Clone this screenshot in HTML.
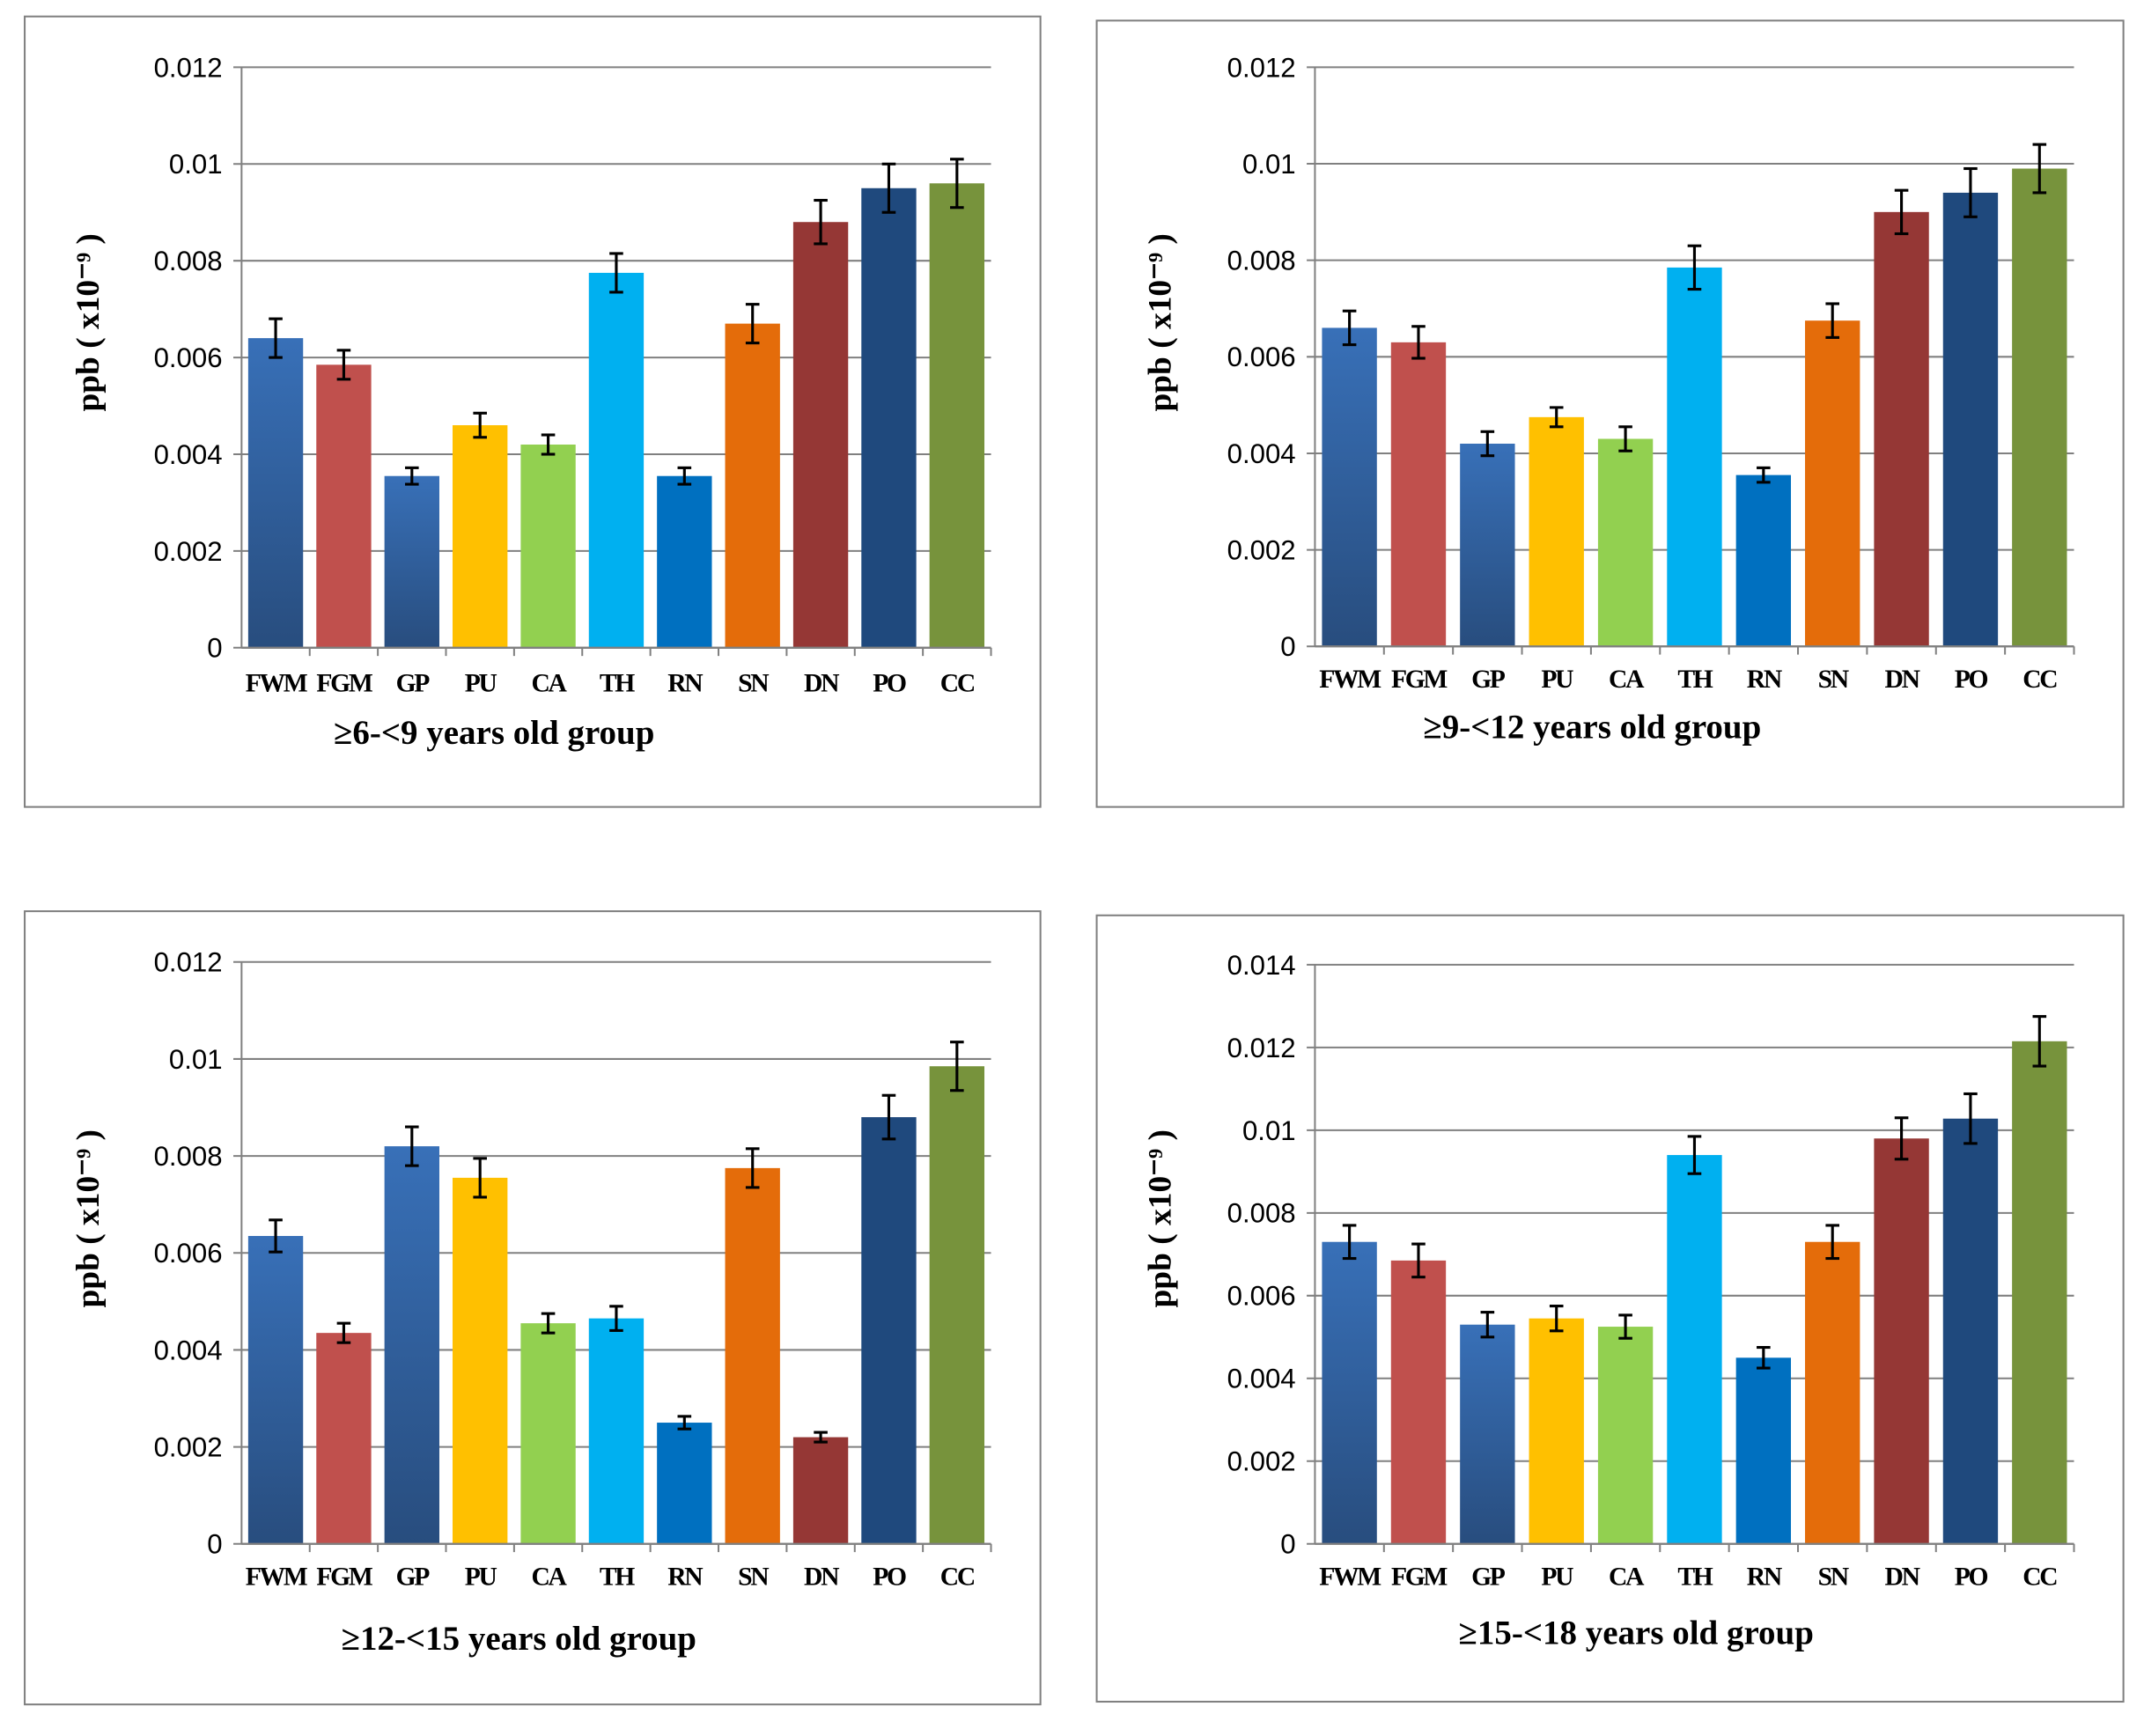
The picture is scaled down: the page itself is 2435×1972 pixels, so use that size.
<!DOCTYPE html>
<html><head><meta charset="utf-8"><style>
html,body{margin:0;padding:0;background:#fff}
svg{display:block}
</style></head><body>
<svg id="root" width="2435" height="1972" viewBox="0 0 1562 1265" preserveAspectRatio="none" xmlns="http://www.w3.org/2000/svg">
<defs>
<linearGradient id="gBlue" x1="0" y1="0" x2="0" y2="1"><stop offset="0" stop-color="#3870b8"/><stop offset="1" stop-color="#284d7e"/></linearGradient>
</defs>
</svg>
<script>
const categories = ["FWM","FGM","GP","PU","CA","TH","RN","SN","DN","PO","CC"];
const colors = ["url(#gBlue)","#c0504d","url(#gBlue)","#ffc000","#92d050","#00b0f0","#0070c0","#e46c0a","#953735","#1f497d","#77933c"];
const values1 = [0.0064,0.00585,0.00355,0.0046,0.0042,0.00775,0.00355,0.0067,0.0088,0.0095,0.0096];
const errors1 = [0.0004,0.0003,0.00017,0.00025,0.0002,0.0004,0.00017,0.0004,0.00045,0.0005,0.0005];
const values2 = [0.0066,0.0063,0.0042,0.00475,0.0043,0.00785,0.00355,0.00675,0.009,0.0094,0.0099];
const errors2 = [0.00035,0.00033,0.00025,0.0002,0.00025,0.00045,0.00015,0.00035,0.00045,0.0005,0.0005];
const values3 = [0.00635,0.00435,0.0082,0.00755,0.00455,0.00465,0.0025,0.00775,0.0022,0.0088,0.00985];
const errors3 = [0.00033,0.0002,0.0004,0.0004,0.0002,0.00025,0.00013,0.0004,0.0001,0.00045,0.0005];
const values4 = [0.0073,0.00685,0.0053,0.00545,0.00525,0.0094,0.0045,0.0073,0.0098,0.01028,0.01215];
const errors4 = [0.0004,0.0004,0.0003,0.0003,0.00028,0.00045,0.00025,0.0004,0.0005,0.0006,0.0006];
const ticks12 = ["0","0.002","0.004","0.006","0.008","0.01","0.012"];
const ticks14 = ["0","0.002","0.004","0.006","0.008","0.01","0.012","0.014"];
const titles = ["≥6-<9 years old group","≥9-<12  years old group","≥12-<15  years old group","≥15-<18 years old group"];

const NS="http://www.w3.org/2000/svg";
const root=document.getElementById('root');
function mk(tag,attrs,parent){const e=document.createElementNS(NS,tag);for(const k in attrs)e.setAttribute(k,attrs[k]);(parent||root).appendChild(e);return e;}

const panels=[
 {fr:[18,12,740,576],x0:176,x1:722,y0:472,yTop:49,ticks:ticks12,max:0.012,vals:values1,errs:errors1,ly:497,ty:534,tx:360,yl:235},
 {fr:[799,15,748,573],x0:958,x1:1511,y0:471,yTop:49,ticks:ticks12,max:0.012,vals:values2,errs:errors2,ly:494,ty:530,tx:1160,yl:235},
 {fr:[18,664,740,578],x0:176,x1:722,y0:1125,yTop:701,ticks:ticks12,max:0.012,vals:values3,errs:errors3,ly:1148,ty:1194,tx:378,yl:888},
 {fr:[799,667,748,573],x0:958,x1:1511,y0:1125,yTop:703,ticks:ticks14,max:0.014,vals:values4,errs:errors4,ly:1148,ty:1190,tx:1192,yl:888}
];

panels.forEach((p,pi)=>{
 const g=mk('g',{});
 
 
 const fr=mk('rect',{x:p.fr[0],y:p.fr[1],width:p.fr[2],height:p.fr[3],fill:'#fff',stroke:'#7f7f7f','stroke-width':1.3},g);
 
 
 const yS=v=>p.y0-(v/p.max)*(p.y0-p.yTop);
 const bw=(p.x1-p.x0)/categories.length;
 p.ticks.forEach(t=>{
  const y=yS(parseFloat(t));
  const l=mk('line',{x1:p.x0-6,x2:p.x1,y1:y,y2:y,stroke:'#808080','stroke-width':1.3},g);
  
  
  const tx=mk('text',{x:p.x0-14,y:y+7,'text-anchor':'end','font-family':'Liberation Sans, sans-serif','font-size':20,fill:'#000'},g);
  tx.textContent=t;
  
  
 });
 const ax=mk('line',{x1:p.x0,x2:p.x0,y1:p.yTop,y2:p.y0,stroke:'#808080','stroke-width':1.3},g);
 
 
 categories.forEach((c,i)=>{
  const v=p.vals[i],e=p.errs[i];
  const cx=p.x0+bw*(i+0.5);
  const r=mk('rect',{x:cx-20,y:yS(v),width:40,height:p.y0-yS(v),fill:colors[i]},g);
  
  
  const eg=mk('g',{stroke:'#000','stroke-width':2},g);
  
  
  mk('line',{x1:cx,x2:cx,y1:yS(v+e),y2:yS(v-e)},eg);
  mk('line',{x1:cx-5,x2:cx+5,y1:yS(v+e),y2:yS(v+e)},eg);
  mk('line',{x1:cx-5,x2:cx+5,y1:yS(v-e),y2:yS(v-e)},eg);
  const tk=mk('line',{x1:p.x0+bw*(i+1),x2:p.x0+bw*(i+1),y1:p.y0,y2:p.y0+6,stroke:'#808080','stroke-width':1.3},g);
  
  
  const lt=mk('text',{x:cx,y:p.ly+7,'text-anchor':'middle','font-family':'Liberation Serif, serif','font-weight':'bold','font-size':19,fill:'#000','letter-spacing':'-1.5'},g);
  lt.textContent=c;
  
  
 });
 const xa=mk('line',{x1:p.x0,x2:p.x1,y1:p.y0,y2:p.y0,stroke:'#808080','stroke-width':1.5},g);
 
 
 const tt=mk('text',{x:p.tx,y:p.ty+8,'text-anchor':'middle','font-family':'Liberation Serif, serif','font-weight':'bold','font-size':25,fill:'#000'},g);
 tt.textContent=titles[pi];
 
 
 const yt=mk('text',{x:0,y:0,transform:`translate(${p.fr[0]+54},${p.yl}) rotate(-90)`,'text-anchor':'middle','font-family':'Liberation Serif, serif','font-weight':'bold','font-size':24,fill:'#000'},g);
 yt.textContent='ppb ( x10⁻⁹ )';
 
 
});
</script>
</body></html>
